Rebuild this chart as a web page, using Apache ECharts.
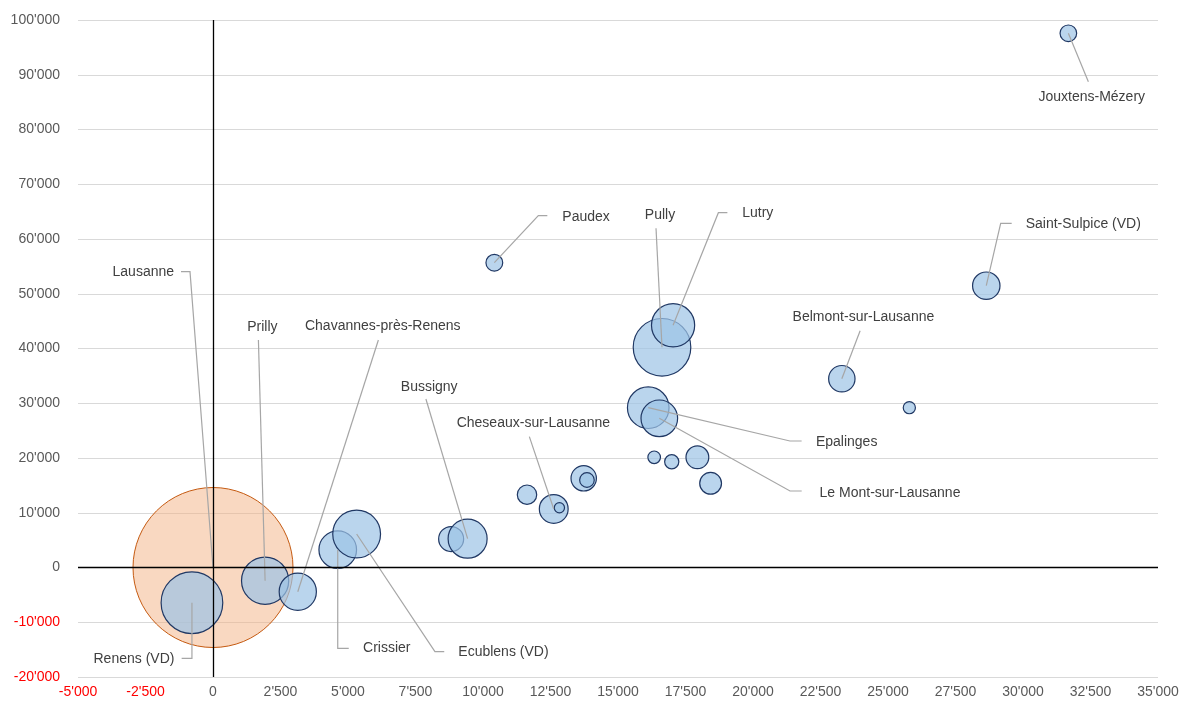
<!DOCTYPE html>
<html><head><meta charset="utf-8">
<script src="https://cdn.jsdelivr.net/npm/echarts@6/dist/echarts.min.js"></script>
<style>html,body{margin:0;padding:0;background:#fff}#c{width:1179px;height:705px}</style>
</head><body><div id="c"></div>
<script>
// ---- data ----
const names = ['Lausanne','Renens (VD)','Prilly','Chavannes-près-Renens','Crissier','Ecublens (VD)','','Bussigny','','Cheseaux-sur-Lausanne','','','','Epalinges','Le Mont-sur-Lausanne','','','','','Pully','Lutry','Paudex','Saint-Sulpice (VD)','Belmont-sur-Lausanne','','Jouxtens-Mézery'];
const xValues = [0,-780,1930,3140,4620,5320,8820,9430,11630,12620,12830,13730,13850,16120,16530,16340,16990,17940,18430,16630,17040,10420,28640,23290,25790,31680];
const yValues = [0,-6430,-2410,-4420,3250,6120,5200,5260,13300,10690,10920,16290,15980,29190,27250,20130,19320,20130,15380,40220,44240,55670,51470,34480,29190,97570];
const sizes = [140000,20800,12180,7570,7730,12500,3420,8320,2060,4540,570,3530,1170,9460,7330,870,1100,2840,2600,18140,10200,1540,4110,3810,810,1510];
const xRange = [-5000, 35000, 2500];
const yRange = [-20000, 100000, 10000];

// ---- layout (label placement, px offsets from bubble centre) ----
const labelLayout = {
  'Lausanne': {t:[-69.7,-295.5], p:[[-23,-295.8],[-32,-295.8]]},
  'Renens (VD)': {t:[-58,56.3], p:[[0,55.6],[-10.3,55.6]]},
  'Prilly': {t:[-2.7,-254], p:[[-6.7,-240.7]]},
  'Chavannes-près-Renens': {t:[85,-266], p:[[80.6,-251.7]]},
  'Crissier': {t:[49,98.6], p:[[0,98.6],[11,98.6]]},
  'Ecublens (VD)': {t:[146.8,118.3], p:[[78.3,117.7],[87.6,117.7]]},
  'Bussigny': {t:[-38.4,-152], p:[[-41.7,-139.7]]},
  'Cheseaux-sur-Lausanne': {t:[-20.4,-85.7], p:[[-24.4,-72.3]]},
  'Paudex': {t:[91.7,-45.7], p:[[44,-47],[53,-47]]},
  'Pully': {t:[-2,-132.3], p:[[-6,-119]]},
  'Lutry': {t:[84.7,-112], p:[[45.3,-112.6],[54.3,-112.6]]},
  'Epalinges': {t:[198.4,34.6], p:[[141.7,33.3],[153.4,33.3]]},
  'Le Mont-sur-Lausanne': {t:[230.7,75], p:[[130.7,72.7],[142.4,72.7]]},
  'Belmont-sur-Lausanne': {t:[21.6,-61.4], p:[[18.3,-48]]},
  'Saint-Sulpice (VD)': {t:[97,-61.7], p:[[14.4,-62.4],[25.4,-62.4]]},
  'Jouxtens-Mézery': {t:[23.4,63.4], p:[[20,48.4]]}
};

const FONT = "'Liberation Sans',Arial,sans-serif";
const FS = 14;
const maxSize = Math.max.apply(null, sizes);
const R_MAX = 80;
const sym = v => 2 * R_MAX * Math.sqrt(v[2] / maxSize);
const fmt = v => (v < 0 ? '-' : '') + String(Math.abs(v)).replace(/\B(?=(\d{3})+(?!\d))/g, "'");
const labColor = v => v < 0 ? '#FF0000' : '#595959';

const pts = names.map((n, i) => [xValues[i], yValues[i], sizes[i], i]);
const lausanne = pts.filter(p => p[3] === 0);
const others = pts.filter(p => p[3] !== 0);
const labelData = pts.filter(p => names[p[3]]).map(p => [p[0], p[1], p[3]]);

const chart = echarts.init(document.getElementById('c'), null, {renderer: 'canvas'});
chart.setOption({
  animation: false,
  backgroundColor: '#fff',
  grid: {left: 78, right: 21, top: 20, bottom: 28, containLabel: false, outerBoundsMode: 'none'},
  xAxis: {
    type: 'value', min: xRange[0], max: xRange[1], interval: xRange[2],
    axisLine: {show: false}, axisTick: {show: false}, splitLine: {show: false},
    axisLabel: {formatter: fmt, color: labColor, fontFamily: FONT, fontSize: FS, margin: 8}
  },
  yAxis: {
    type: 'value', min: yRange[0], max: yRange[1], interval: yRange[2],
    axisLine: {show: false}, axisTick: {show: false},
    splitLine: {show: true, lineStyle: {color: '#D9D9D9', width: 1}},
    axisLabel: {formatter: fmt, color: labColor, fontFamily: FONT, fontSize: FS, margin: 18}
  },
  series: [
    {
      type: 'scatter', z: 1, data: [], silent: true,
      markLine: {
        silent: true, symbol: ['none', 'none'], label: {show: false},
        lineStyle: {color: '#000', width: 1.3, type: 'solid'},
        data: [{xAxis: 0}, {yAxis: 0}]
      }
    },
    {
      name: 'Lausanne', type: 'scatter', z: 2, data: lausanne, symbolSize: sym,
      itemStyle: {color: 'rgba(244,177,131,0.5)', borderColor: '#C55A11', borderWidth: 1, opacity: 1}
    },
    {
      name: 'Communes', type: 'scatter', z: 3, data: others, symbolSize: sym,
      itemStyle: {color: 'rgba(157,195,230,0.7)', borderColor: '#203864', borderWidth: 1.2, opacity: 1}
    },
    {
      type: 'custom', z: 4, clip: false, silent: true, data: labelData,
      renderItem: function (params, api) {
        const c = api.coord([api.value(0), api.value(1)]);
        const name = names[api.value(2)];
        const L = labelLayout[name];
        if (!L) return null;
        const points = [c].concat(L.p.map(o => [c[0] + o[0], c[1] + o[1]]));
        return {
          type: 'group',
          children: [
            {type: 'polyline', shape: {points: points}, style: {stroke: '#A6A6A6', lineWidth: 1.2, fill: null}},
            {type: 'text', x: c[0] + L.t[0], y: c[1] + L.t[1],
             style: {text: name, fill: '#404040', font: FS + 'px ' + FONT, align: 'center', verticalAlign: 'middle'}}
          ]
        };
      }
    }
  ]
});
</script></body></html>
